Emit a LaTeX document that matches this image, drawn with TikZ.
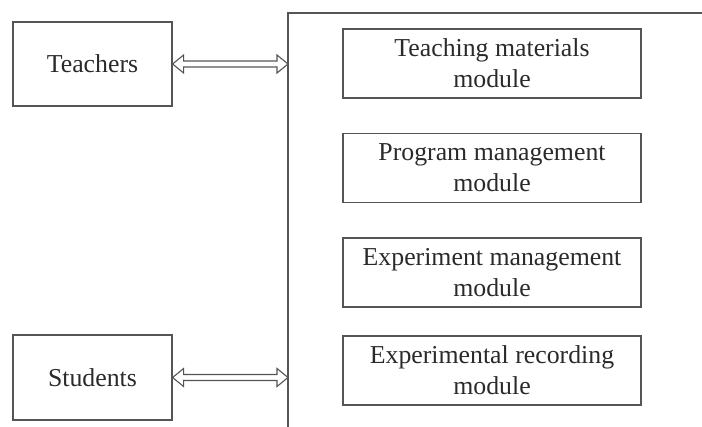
\documentclass[tikz,border=0pt]{standalone}
\usepackage{fontspec}
\setmainfont{Liberation Serif}
\usetikzlibrary{calc}

\definecolor{linegray}{HTML}{555555}
\definecolor{textgray}{HTML}{2A2A2A}

\tikzset{
	user/.style={draw=linegray, line width=1.2pt, rectangle, minimum width=159pt, inner sep=0pt, text=textgray, font=\fontsize{25.8}{31}\selectfont},
	module/.style={draw=linegray, line width=1.2pt, rectangle, minimum width=298pt, minimum height=69pt, inner sep=0pt, align=center, text=textgray, font=\fontsize{25.8}{31}\selectfont},
	link/.style={draw=linegray, fill=white, line width=1.1pt, line join=miter}
}

\begin{document}
\begin{tikzpicture}[x=1pt,y=-1pt]
					%\draw[help lines] (0,0) grid (702,427);
					\useasboundingbox (0,0) rectangle (702,427);

					%CADRE
					\coordinate (F) at (288,13);
					\draw[linegray, line width=1.2pt] (288,427) -- (F) -- (702,13);

					%UTILISATEURS
					\node[user, minimum height=84pt] (teachers) at (92.5,64) {Teachers};
					\node[user, minimum height=85pt] (students) at (92.5,377.5) {Students};

					%MODULES
					\node[module] (materials) at (492,63.5) {Teaching materials\\module};
					\node[module] (program) at (492,168) {Program management\\module};
					\node[module] (experiment) at (492,272.5) {Experiment management\\module};
					\node[module] (recording) at (492,370.5) {Experimental recording\\module};

					%FLECHES DOUBLES
					\coordinate (T) at (teachers.east -| F);
					\coordinate (S) at (students.east -| F);
					\draw[link] (teachers.east) -- ++(11,-9) -- ++(0,6) -- ($(T)+(-11,-3)$) -- ++(0,-6) -- (T)
						-- ++(-11,9) -- ++(0,-6) -- ($(teachers.east)+(11,3)$) -- ++(0,6) -- cycle;
					\draw[link] (students.east) -- ++(11,-9) -- ++(0,6) -- ($(S)+(-11,-3)$) -- ++(0,-6) -- (S)
						-- ++(-11,9) -- ++(0,-6) -- ($(students.east)+(11,3)$) -- ++(0,6) -- cycle;
\end{tikzpicture}
\end{document}
